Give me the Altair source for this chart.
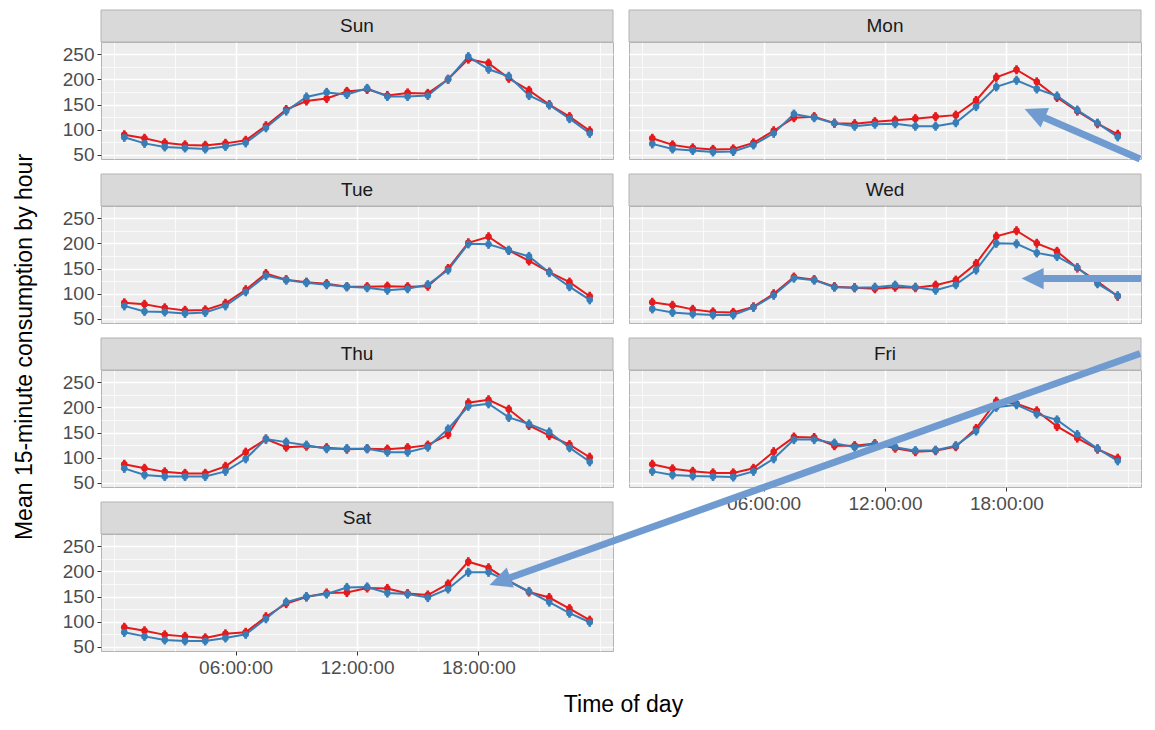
import math
import altair as alt
import pandas as pd

# ---------------- data ----------------
DAYS = ["Sun", "Mon", "Tue", "Wed", "Thu", "Fri", "Sat"]
HOURS = [0.5, 1.5, 2.5, 3.5, 4.5, 5.5, 6.5, 7.5, 8.5, 9.5, 10.5, 11.5,
         12.5, 13.5, 14.5, 15.5, 16.5, 17.5, 18.5, 19.5, 20.5, 21.5, 22.5, 23.5]
SERIES = ["Group A", "Group B"]          # red, blue
COLORS = ["#E41A1C", "#377EB8"]

RED = {
    "Sun": [90, 83, 74, 70, 69, 73, 79, 108, 140, 157, 162, 176, 180, 168, 173, 172, 200, 240, 232, 202, 178, 150, 126, 98],
    "Mon": [83, 70, 64, 61, 62, 74, 98, 124, 126, 113, 112, 116, 119, 122, 126, 129, 158, 204, 219, 195, 164, 137, 112, 91],
    "Tue": [82, 79, 72, 67, 68, 81, 108, 140, 128, 123, 120, 114, 114, 115, 114, 115, 150, 201, 213, 186, 165, 143, 123, 95],
    "Wed": [83, 77, 69, 64, 63, 74, 100, 133, 128, 114, 112, 110, 113, 112, 117, 127, 160, 214, 225, 200, 184, 151, 124, 95],
    "Thu": [87, 79, 72, 69, 69, 83, 111, 137, 121, 123, 120, 117, 118, 117, 120, 125, 146, 209, 215, 196, 164, 144, 126, 101],
    "Fri": [87, 78, 73, 70, 70, 79, 112, 141, 140, 124, 124, 128, 119, 112, 114, 122, 158, 212, 207, 193, 162, 139, 117, 99],
    "Sat": [89, 82, 74, 71, 68, 76, 79, 110, 136, 149, 157, 158, 167, 166, 156, 153, 175, 219, 207, 181, 159, 148, 126, 103],
}
BLUE = {
    "Sun": [85, 73, 66, 64, 62, 67, 74, 104, 137, 165, 174, 170, 182, 166, 166, 168, 200, 245, 220, 206, 168, 149, 122, 93],
    "Mon": [72, 62, 59, 56, 57, 70, 93, 131, 124, 113, 107, 111, 112, 107, 107, 114, 146, 185, 198, 181, 167, 139, 113, 86],
    "Tue": [76, 65, 64, 61, 63, 76, 104, 136, 127, 122, 118, 114, 112, 107, 110, 118, 147, 199, 198, 186, 174, 142, 114, 88],
    "Wed": [70, 63, 60, 58, 58, 73, 97, 131, 127, 113, 112, 113, 117, 113, 107, 118, 147, 200, 199, 181, 174, 152, 120, 96],
    "Thu": [79, 66, 63, 63, 63, 73, 98, 137, 131, 125, 118, 118, 118, 111, 111, 121, 157, 202, 207, 180, 167, 151, 120, 92],
    "Fri": [73, 66, 64, 63, 62, 73, 98, 136, 136, 129, 121, 127, 121, 114, 115, 124, 153, 200, 205, 187, 175, 146, 118, 94],
    "Sat": [79, 71, 64, 62, 62, 68, 75, 106, 139, 150, 155, 168, 169, 157, 155, 148, 165, 198, 198, 180, 160, 139, 117, 99],
}
ERR = 9  # estimated half-length of the error bars

X_TICKS = [6, 12, 18]
X_TICK_LABELS = ["06:00:00", "12:00:00", "18:00:00"]
X_MINOR = [0, 3, 9, 15, 21, 24]
Y_TICKS = [50, 100, 150, 200, 250]
Y_MINOR = [75, 125, 175, 225]
X_DOMAIN = [-0.65, 24.65]
Y_DOMAIN = [42, 274]

X_TITLE = "Time of day"
Y_TITLE = "Mean 15-minute consumption by hour"

# annotation arrows (panel, tail (hour, value), tip (hour, value)) in panel data units
ARROWS = [
    ("Mon", (24.6, 42), (18.9, 141)),
    ("Wed", (24.65, 130), (18.75, 130)),
    ("Sat", (50.7, 632), (18.55, 173)),
]

# ---------------- layout / style ----------------
W, H, STRIP, GAP, COLGAP = 512, 117, 32, 15, 16
PERIOD = H + GAP + STRIP
FONT = "Liberation Sans"
ARROW_COLOR = "#6F9BD1"
HEAD_LEN = 22
HEAD_SIZE = (2 * HEAD_LEN) ** 2
HEAD_PATH = "M0,0L0.48,1L-0.48,1Z"
PX_H = W / (X_DOMAIN[1] - X_DOMAIN[0])
PX_V = H / (Y_DOMAIN[1] - Y_DOMAIN[0])

XS = alt.Scale(domain=X_DOMAIN, zero=False, nice=False)
YS = alt.Scale(domain=Y_DOMAIN, zero=False, nice=False)

x_major_test = " || ".join(f"datum.value == {v}" for v in X_TICKS)
x_label_expr = "".join(f"datum.value == {v} ? '{l}' : " for v, l in zip(X_TICKS, X_TICK_LABELS)) + "''"
y_major_test = " || ".join(f"datum.value == {v}" for v in Y_TICKS)


def x_axis(day, bottom):
    kw = dict(
        values=sorted(X_TICKS + X_MINOR),
        labels=bottom,
        ticks=bottom,
        labelExpr=x_label_expr,
        tickOpacity={"condition": {"test": x_major_test, "value": 1}, "value": 0},
        gridWidth={"condition": {"test": x_major_test, "value": 1.6}, "value": 0.7},
        labelOverlap=False,
        labelFlush=False,
        title=None,
    )
    if day == "Sat":
        kw["title"] = X_TITLE
        kw["titleX"] = W + COLGAP / 2 + 2
        kw["titlePadding"] = 16
    return alt.Axis(**kw)


def y_axis(day, left):
    kw = dict(
        values=sorted(Y_TICKS + Y_MINOR),
        labels=left,
        ticks=left,
        labelExpr=f"({y_major_test}) ? datum.label : ''",
        tickOpacity={"condition": {"test": y_major_test, "value": 1}, "value": 0},
        gridWidth={"condition": {"test": y_major_test, "value": 1.6}, "value": 0.7},
        labelOverlap=False,
        labelFlush=False,
        title=None,
    )
    if day == "Tue":
        kw["title"] = Y_TITLE
        kw["titleY"] = (PERIOD + H) / 2
        kw["titlePadding"] = 26
    return alt.Axis(**kw)


def panel(i, day):
    left = i % 2 == 0
    bottom = day in ("Fri", "Sat")
    recs = []
    for s, vals in ((SERIES[0], RED[day]), (SERIES[1], BLUE[day])):
        for h, v in zip(HOURS, vals):
            recs.append({"hour": h, "value": v, "lo": v - ERR, "hi": v + ERR, "series": s})
    df = pd.DataFrame(recs)
    xa, ya = x_axis(day, bottom), y_axis(day, left)

    def X(f="hour"):
        return alt.X(f"{f}:Q", scale=XS, axis=xa)

    def Y(f="value"):
        return alt.Y(f"{f}:Q", scale=YS, axis=ya)

    color = alt.Color("series:N", scale=alt.Scale(domain=SERIES, range=COLORS), legend=None)
    base = alt.Chart(df)
    err = base.mark_rule(strokeWidth=2.6).encode(x=X(), y=Y("lo"), y2="hi", color=color)
    line = base.mark_line(strokeWidth=2).encode(x=X(), y=Y(), color=color)
    pts = base.mark_circle(size=44, opacity=1).encode(x=X(), y=Y(), color=color)

    sdf = pd.DataFrame({"day": [day]})
    strip = alt.Chart(sdf).mark_rect(fill="#D9D9D9", stroke="#B3B3B3", strokeWidth=1).encode(
        x=alt.value(0), x2=alt.value(W), y=alt.value(-STRIP), y2=alt.value(0))
    stext = alt.Chart(sdf).mark_text(font=FONT, fontSize=19, color="#1A1A1A",
                                     align="center", baseline="middle").encode(
        x=alt.value(W / 2), y=alt.value(-STRIP / 2), text="day:N")

    layers = [err, line, pts, strip, stext]
    for d, tail, tip in ARROWS:
        if d != day:
            continue
        dxp = (tip[0] - tail[0]) * PX_H
        dyp = -(tip[1] - tail[1]) * PX_V
        length = math.hypot(dxp, dyp)
        ang = math.degrees(math.atan2(dxp, -dyp)) % 360
        f = (HEAD_LEN * 0.6) / length
        end = (tip[0] + (tail[0] - tip[0]) * f, tip[1] + (tail[1] - tip[1]) * f)
        adf = pd.DataFrame({"hour": [tail[0]], "value": [tail[1]],
                            "hour2": [end[0]], "value2": [end[1]]})
        hdf = pd.DataFrame({"hour": [tip[0]], "value": [tip[1]]})
        shaft = alt.Chart(adf).mark_rule(color=ARROW_COLOR, strokeWidth=7, strokeCap="butt").encode(
            x=X(), y=Y(), x2="hour2:Q", y2="value2:Q")
        head = alt.Chart(hdf).mark_point(shape=HEAD_PATH, filled=True, size=HEAD_SIZE, angle=ang,
                                         color=ARROW_COLOR, opacity=1, strokeWidth=0).encode(
            x=X(), y=Y())
        layers += [shaft, head]
    return alt.layer(*layers).properties(width=W, height=H)


panels = [panel(i, d) for i, d in enumerate(DAYS)]

chart = alt.concat(
    *panels, columns=2, spacing={"row": GAP + STRIP, "column": COLGAP}, bounds="flush"
).properties(
    padding={"left": 4, "top": 1, "right": 1, "bottom": 2}
).configure_view(
    fill="#EDEDED", stroke="#B3B3B3", strokeWidth=1
).configure_axis(
    gridColor="#FFFFFF",
    domain=False,
    labelFont=FONT, labelFontSize=19, labelColor="#4D4D4D", labelPadding=3,
    titleFont=FONT, titleFontSize=23, titleFontWeight="normal", titleColor="#000000",
    tickColor="#333333", tickSize=4, tickWidth=1,
)

chart.save("out.html", embed_options={"renderer": "svg", "actions": False})
